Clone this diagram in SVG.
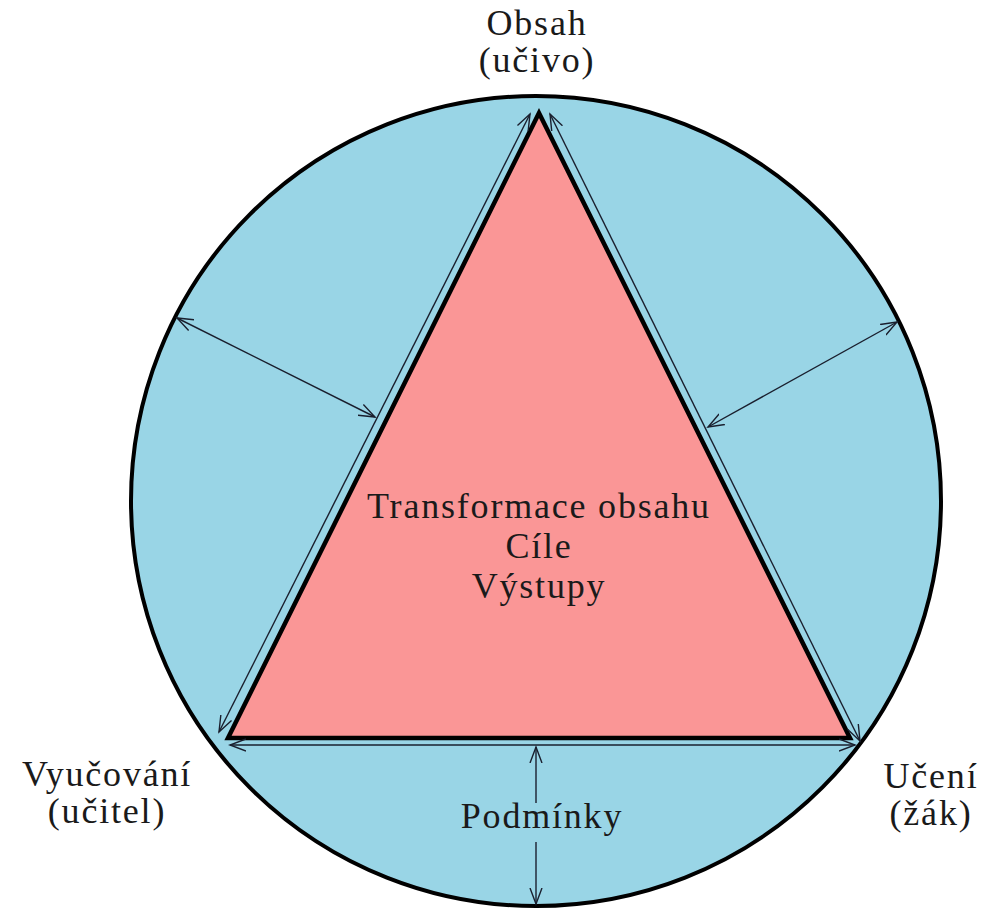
<svg xmlns="http://www.w3.org/2000/svg" width="986" height="912" viewBox="0 0 986 912">
<style>
.lbl{font-family:"Liberation Serif","Times New Roman",serif;font-size:36px;fill:#1a1a1a;text-anchor:middle;letter-spacing:1.8px}
.con{fill:none;stroke:#1a1f2e;stroke-width:1.4}
</style>
<defs>
<marker id="ah" markerUnits="userSpaceOnUse" markerWidth="20" markerHeight="14" refX="16" refY="6" orient="auto-start-reverse" viewBox="0 0 20 12">
<path d="M0,0 L16,6 L0,12" fill="none" stroke="#1a1f2e" stroke-width="1.4"/>
</marker>
</defs>
<rect width="986" height="912" fill="#fff"/>
<g id="circle">
<circle cx="536" cy="501" r="405" fill="#99D5E6" stroke="#000" stroke-width="4"/>
</g>
<g id="triangle">
<polygon points="539,113 228,738 850,738" fill="#FA9696" stroke="#000" stroke-width="4.5" stroke-linejoin="miter"/>
<text class="lbl" x="539" y="518">Transformace obsahu</text>
<text class="lbl" x="539" y="558">Cíle</text>
<text class="lbl" x="539" y="598">Výstupy</text>
</g>
<g id="label-obsah">
<text class="lbl" x="537" y="35">Obsah</text>
<text class="lbl" x="537" y="72">(učivo)</text>
</g>
<g id="label-vyucovani">
<text class="lbl" x="107" y="786">Vyučování</text>
<text class="lbl" x="107" y="823">(učitel)</text>
</g>
<g id="label-uceni">
<text class="lbl" x="931" y="788">Učení</text>
<text class="lbl" x="931" y="825">(žák)</text>
</g>
<g id="label-podminky">
<text class="lbl" x="542" y="828">Podmínky</text>
</g>
<g id="connectors">
<line class="con" x1="219" y1="732" x2="530" y2="114" marker-start="url(#ah)" marker-end="url(#ah)"/>
<line class="con" x1="550" y1="114" x2="860" y2="741" marker-start="url(#ah)" marker-end="url(#ah)"/>
<line class="con" x1="230" y1="745" x2="855" y2="745" marker-start="url(#ah)" marker-end="url(#ah)"/>
<line class="con" x1="177" y1="318" x2="375" y2="417" marker-start="url(#ah)" marker-end="url(#ah)"/>
<line class="con" x1="897" y1="322" x2="708" y2="427" marker-start="url(#ah)" marker-end="url(#ah)"/>
<line class="con" x1="536" y1="803" x2="536" y2="747" marker-end="url(#ah)"/>
<line class="con" x1="536" y1="842" x2="536" y2="904" marker-end="url(#ah)"/>
</g>
</svg>
